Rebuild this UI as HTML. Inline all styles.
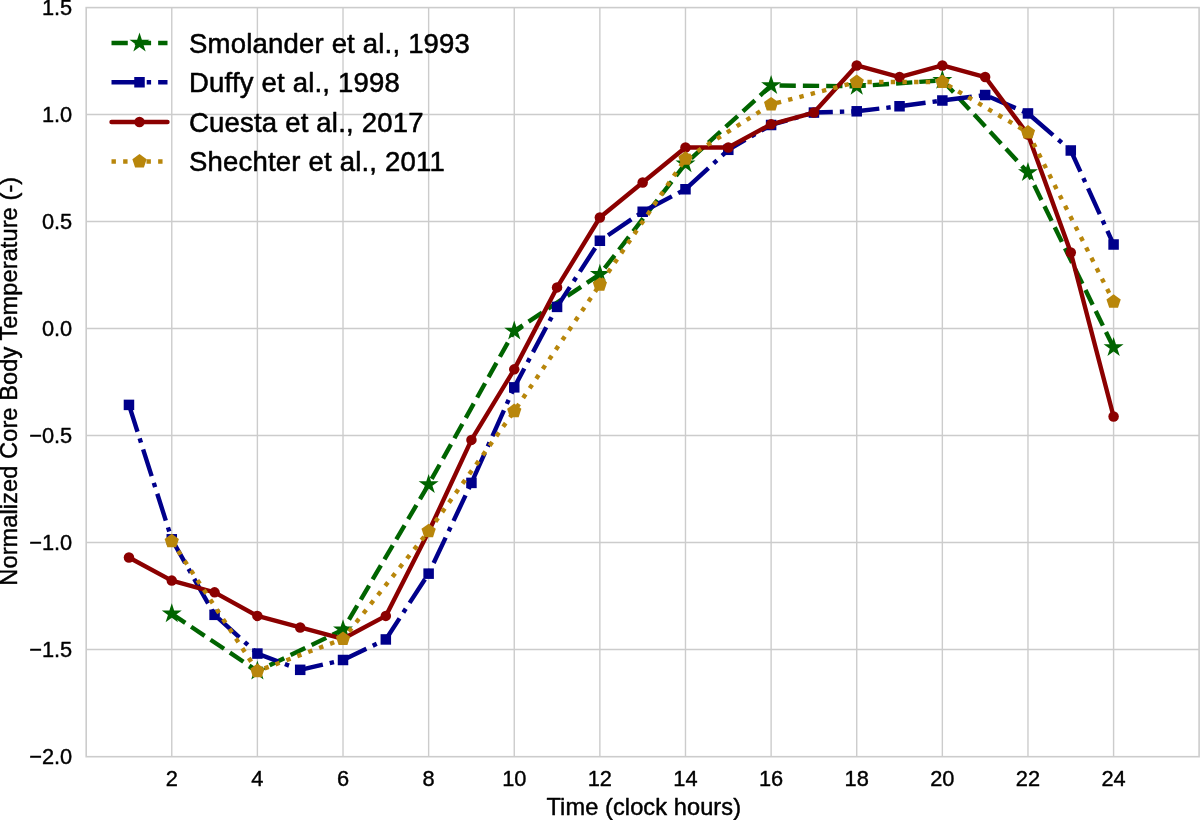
<!DOCTYPE html>
<html lang="en"><head><meta charset="utf-8"><title>Normalized Core Body Temperature</title>
<style>
html,body{margin:0;padding:0;background:#fff;}
body{width:1200px;height:820px;overflow:hidden;}
svg{display:block;}
text{font-family:"Liberation Sans",Arial,Helvetica,sans-serif;fill:#000;stroke:#000;stroke-linejoin:round;}
.tick{font-size:21.8px;stroke-width:0.4px;}
.lab{font-size:23.6px;letter-spacing:0.08px;stroke-width:0.45px;}
.leg{font-size:27.5px;letter-spacing:0.2px;stroke-width:0.55px;}
</style></head><body>
<svg width="1200" height="820" viewBox="0 0 1200 820">
<rect x="0" y="0" width="1200" height="820" fill="#ffffff"/>
<g stroke="#cccccc" stroke-width="1.4" fill="none">
<line x1="171.77" y1="7.60" x2="171.77" y2="756.70"/>
<line x1="257.39" y1="7.60" x2="257.39" y2="756.70"/>
<line x1="343.01" y1="7.60" x2="343.01" y2="756.70"/>
<line x1="428.63" y1="7.60" x2="428.63" y2="756.70"/>
<line x1="514.25" y1="7.60" x2="514.25" y2="756.70"/>
<line x1="599.87" y1="7.60" x2="599.87" y2="756.70"/>
<line x1="685.49" y1="7.60" x2="685.49" y2="756.70"/>
<line x1="771.11" y1="7.60" x2="771.11" y2="756.70"/>
<line x1="856.73" y1="7.60" x2="856.73" y2="756.70"/>
<line x1="942.35" y1="7.60" x2="942.35" y2="756.70"/>
<line x1="1027.97" y1="7.60" x2="1027.97" y2="756.70"/>
<line x1="1113.59" y1="7.60" x2="1113.59" y2="756.70"/>
<line x1="86.20" y1="114.50" x2="1199.10" y2="114.50"/>
<line x1="86.20" y1="221.50" x2="1199.10" y2="221.50"/>
<line x1="86.20" y1="328.50" x2="1199.10" y2="328.50"/>
<line x1="86.20" y1="435.50" x2="1199.10" y2="435.50"/>
<line x1="86.20" y1="542.50" x2="1199.10" y2="542.50"/>
<line x1="86.20" y1="649.50" x2="1199.10" y2="649.50"/>
</g>
<polyline points="171.77,613.76 257.39,671.11 343.01,629.81 428.63,484.40 514.25,331.07 599.87,274.36 685.49,163.72 771.11,85.50 856.73,86.25 942.35,80.26 1027.97,172.49 1113.59,347.50" fill="none" stroke="#006400" stroke-width="4.40" stroke-linejoin="round" stroke-linecap="butt" stroke-dasharray="16.28,7.04"/>
<g>
<polygon points="171.77,603.26 169.41,610.52 161.78,610.52 167.96,615.00 165.60,622.26 171.77,617.77 177.94,622.26 175.58,615.00 181.76,610.52 174.13,610.52" fill="#006400"/>
<polygon points="257.39,660.61 255.03,667.87 247.40,667.87 253.58,672.35 251.22,679.61 257.39,675.12 263.56,679.61 261.20,672.35 267.38,667.87 259.75,667.87" fill="#006400"/>
<polygon points="343.01,619.31 340.65,626.57 333.02,626.57 339.20,631.05 336.84,638.31 343.01,633.82 349.18,638.31 346.82,631.05 353.00,626.57 345.37,626.57" fill="#006400"/>
<polygon points="428.63,473.90 426.27,481.15 418.64,481.15 424.82,485.64 422.46,492.89 428.63,488.41 434.80,492.89 432.44,485.64 438.62,481.15 430.99,481.15" fill="#006400"/>
<polygon points="514.25,320.57 511.89,327.82 504.26,327.82 510.44,332.31 508.08,339.56 514.25,335.08 520.42,339.56 518.06,332.31 524.24,327.82 516.61,327.82" fill="#006400"/>
<polygon points="599.87,263.86 597.51,271.11 589.88,271.11 596.06,275.60 593.70,282.85 599.87,278.37 606.04,282.85 603.68,275.60 609.86,271.11 602.23,271.11" fill="#006400"/>
<polygon points="685.49,153.22 683.13,160.48 675.50,160.48 681.68,164.96 679.32,172.21 685.49,167.73 691.66,172.21 689.30,164.96 695.48,160.48 687.85,160.48" fill="#006400"/>
<polygon points="771.11,75.00 768.75,82.26 761.12,82.26 767.30,86.74 764.94,94.00 771.11,89.51 777.28,94.00 774.92,86.74 781.10,82.26 773.47,82.26" fill="#006400"/>
<polygon points="856.73,75.75 854.37,83.01 846.74,83.01 852.92,87.49 850.56,94.75 856.73,90.26 862.90,94.75 860.54,87.49 866.72,83.01 859.09,83.01" fill="#006400"/>
<polygon points="942.35,69.76 939.99,77.02 932.36,77.02 938.54,81.50 936.18,88.75 942.35,84.27 948.52,88.75 946.16,81.50 952.34,77.02 944.71,77.02" fill="#006400"/>
<polygon points="1027.97,161.99 1025.61,169.25 1017.98,169.25 1024.16,173.73 1021.80,180.99 1027.97,176.50 1034.14,180.99 1031.78,173.73 1037.96,169.25 1030.33,169.25" fill="#006400"/>
<polygon points="1113.59,337.00 1111.23,344.26 1103.60,344.26 1109.78,348.74 1107.42,356.00 1113.59,351.51 1119.76,356.00 1117.40,348.74 1123.58,344.26 1115.95,344.26" fill="#006400"/>
</g>
<polyline points="128.96,404.90 171.77,539.29 214.58,614.83 257.39,653.57 300.20,669.83 343.01,659.99 385.82,639.44 428.63,573.66 471.44,482.90 514.25,387.35 557.06,306.89 599.87,240.76 642.68,211.76 685.49,189.25 728.30,149.81 771.11,124.99 813.92,112.57 856.73,111.29 899.54,106.26 942.35,100.50 985.16,95.03 1027.97,113.43 1070.78,150.49 1113.59,244.50" fill="none" stroke="#00008b" stroke-width="4.40" stroke-linejoin="round" stroke-linecap="butt" stroke-dasharray="28.16,7.04,4.40,7.04"/>
<g>
<rect x="123.71" y="399.65" width="10.50" height="10.50" fill="#00008b"/>
<rect x="166.52" y="534.04" width="10.50" height="10.50" fill="#00008b"/>
<rect x="209.33" y="609.58" width="10.50" height="10.50" fill="#00008b"/>
<rect x="252.14" y="648.32" width="10.50" height="10.50" fill="#00008b"/>
<rect x="294.95" y="664.58" width="10.50" height="10.50" fill="#00008b"/>
<rect x="337.76" y="654.74" width="10.50" height="10.50" fill="#00008b"/>
<rect x="380.57" y="634.19" width="10.50" height="10.50" fill="#00008b"/>
<rect x="423.38" y="568.41" width="10.50" height="10.50" fill="#00008b"/>
<rect x="466.19" y="477.65" width="10.50" height="10.50" fill="#00008b"/>
<rect x="509.00" y="382.10" width="10.50" height="10.50" fill="#00008b"/>
<rect x="551.81" y="301.64" width="10.50" height="10.50" fill="#00008b"/>
<rect x="594.62" y="235.51" width="10.50" height="10.50" fill="#00008b"/>
<rect x="637.43" y="206.51" width="10.50" height="10.50" fill="#00008b"/>
<rect x="680.24" y="184.00" width="10.50" height="10.50" fill="#00008b"/>
<rect x="723.05" y="144.56" width="10.50" height="10.50" fill="#00008b"/>
<rect x="765.86" y="119.74" width="10.50" height="10.50" fill="#00008b"/>
<rect x="808.67" y="107.32" width="10.50" height="10.50" fill="#00008b"/>
<rect x="851.48" y="106.04" width="10.50" height="10.50" fill="#00008b"/>
<rect x="894.29" y="101.01" width="10.50" height="10.50" fill="#00008b"/>
<rect x="937.10" y="95.25" width="10.50" height="10.50" fill="#00008b"/>
<rect x="979.91" y="89.78" width="10.50" height="10.50" fill="#00008b"/>
<rect x="1022.72" y="108.18" width="10.50" height="10.50" fill="#00008b"/>
<rect x="1065.53" y="145.24" width="10.50" height="10.50" fill="#00008b"/>
<rect x="1108.34" y="239.25" width="10.50" height="10.50" fill="#00008b"/>
</g>
<polyline points="128.96,557.48 171.77,580.59 214.58,592.36 257.39,615.90 300.20,627.46 343.01,638.80 385.82,615.90 428.63,531.80 471.44,439.91 514.25,369.37 557.06,287.41 599.87,217.50 642.68,182.55 685.49,147.50 728.30,147.50 771.11,124.26 813.92,112.51 856.73,65.49 899.54,77.01 942.35,65.49 985.16,77.01 1027.97,134.62 1070.78,252.53 1113.59,416.45" fill="none" stroke="#8b0000" stroke-width="4.40" stroke-linejoin="round" stroke-linecap="round"/>
<g>
<circle cx="128.96" cy="557.48" r="5.25" fill="#8b0000"/>
<circle cx="171.77" cy="580.59" r="5.25" fill="#8b0000"/>
<circle cx="214.58" cy="592.36" r="5.25" fill="#8b0000"/>
<circle cx="257.39" cy="615.90" r="5.25" fill="#8b0000"/>
<circle cx="300.20" cy="627.46" r="5.25" fill="#8b0000"/>
<circle cx="343.01" cy="638.80" r="5.25" fill="#8b0000"/>
<circle cx="385.82" cy="615.90" r="5.25" fill="#8b0000"/>
<circle cx="428.63" cy="531.80" r="5.25" fill="#8b0000"/>
<circle cx="471.44" cy="439.91" r="5.25" fill="#8b0000"/>
<circle cx="514.25" cy="369.37" r="5.25" fill="#8b0000"/>
<circle cx="557.06" cy="287.41" r="5.25" fill="#8b0000"/>
<circle cx="599.87" cy="217.50" r="5.25" fill="#8b0000"/>
<circle cx="642.68" cy="182.55" r="5.25" fill="#8b0000"/>
<circle cx="685.49" cy="147.50" r="5.25" fill="#8b0000"/>
<circle cx="728.30" cy="147.50" r="5.25" fill="#8b0000"/>
<circle cx="771.11" cy="124.26" r="5.25" fill="#8b0000"/>
<circle cx="813.92" cy="112.51" r="5.25" fill="#8b0000"/>
<circle cx="856.73" cy="65.49" r="5.25" fill="#8b0000"/>
<circle cx="899.54" cy="77.01" r="5.25" fill="#8b0000"/>
<circle cx="942.35" cy="65.49" r="5.25" fill="#8b0000"/>
<circle cx="985.16" cy="77.01" r="5.25" fill="#8b0000"/>
<circle cx="1027.97" cy="134.62" r="5.25" fill="#8b0000"/>
<circle cx="1070.78" cy="252.53" r="5.25" fill="#8b0000"/>
<circle cx="1113.59" cy="416.45" r="5.25" fill="#8b0000"/>
</g>
<polyline points="171.77,541.22 257.39,671.11 343.01,639.01 428.63,531.16 514.25,411.10 599.87,284.63 685.49,158.80 771.11,104.44 856.73,81.97 942.35,81.97 1027.97,132.48 1113.59,301.75" fill="none" stroke="#b8860b" stroke-width="4.40" stroke-linejoin="round" stroke-linecap="butt" stroke-dasharray="4.40,7.26"/>
<g>
<polygon points="171.77,533.72 164.64,538.90 167.36,547.28 176.18,547.28 178.90,538.90" fill="#b8860b"/>
<polygon points="257.39,663.61 250.26,668.80 252.98,677.18 261.80,677.18 264.52,668.80" fill="#b8860b"/>
<polygon points="343.01,631.51 335.88,636.70 338.60,645.08 347.42,645.08 350.14,636.70" fill="#b8860b"/>
<polygon points="428.63,523.66 421.50,528.84 424.22,537.23 433.04,537.23 435.76,528.84" fill="#b8860b"/>
<polygon points="514.25,403.60 507.12,408.79 509.84,417.17 518.66,417.17 521.38,408.79" fill="#b8860b"/>
<polygon points="599.87,277.13 592.74,282.31 595.46,290.70 604.28,290.70 607.00,282.31" fill="#b8860b"/>
<polygon points="685.49,151.30 678.36,156.48 681.08,164.87 689.90,164.87 692.62,156.48" fill="#b8860b"/>
<polygon points="771.11,96.94 763.98,102.12 766.70,110.51 775.52,110.51 778.24,102.12" fill="#b8860b"/>
<polygon points="856.73,74.47 849.60,79.65 852.32,88.04 861.14,88.04 863.86,79.65" fill="#b8860b"/>
<polygon points="942.35,74.47 935.22,79.65 937.94,88.04 946.76,88.04 949.48,79.65" fill="#b8860b"/>
<polygon points="1027.97,124.98 1020.84,130.16 1023.56,138.54 1032.38,138.54 1035.10,130.16" fill="#b8860b"/>
<polygon points="1113.59,294.25 1106.46,299.43 1109.18,307.82 1118.00,307.82 1120.72,299.43" fill="#b8860b"/>
</g>
<rect x="86.20" y="7.60" width="1112.90" height="749.10" fill="none" stroke="#cccccc" stroke-width="1.6"/>
<line x1="111.5" y1="43.00" x2="167.5" y2="43.00" stroke="#006400" stroke-width="4.40" stroke-dasharray="16.28,7.04"/>
<polygon points="139.50,32.50 137.14,39.76 129.51,39.76 135.69,44.24 133.33,51.49 139.50,47.01 145.67,51.49 143.31,44.24 149.49,39.76 141.86,39.76" fill="#006400"/>
<text class="leg" x="189" y="52.50">Smolander et al., 1993</text>
<line x1="111.5" y1="82.25" x2="167.5" y2="82.25" stroke="#00008b" stroke-width="4.40" stroke-dasharray="28.16,7.04,4.40,7.04"/>
<rect x="134.25" y="77.00" width="10.50" height="10.50" fill="#00008b"/>
<text class="leg" x="189" y="91.75">Duffy et al., 1998</text>
<line x1="111.5" y1="122.00" x2="167.5" y2="122.00" stroke="#8b0000" stroke-width="4.40" stroke-linecap="round"/>
<circle cx="139.50" cy="122.00" r="5.25" fill="#8b0000"/>
<text class="leg" x="189" y="131.50">Cuesta et al., 2017</text>
<line x1="111.5" y1="161.50" x2="167.5" y2="161.50" stroke="#b8860b" stroke-width="4.40" stroke-dasharray="4.40,7.26"/>
<polygon points="139.50,154.00 132.37,159.18 135.09,167.57 143.91,167.57 146.63,159.18" fill="#b8860b"/>
<text class="leg" x="189" y="171.00">Shechter et al., 2011</text>
<text class="tick" x="171.77" y="786.4" text-anchor="middle">2</text>
<text class="tick" x="257.39" y="786.4" text-anchor="middle">4</text>
<text class="tick" x="343.01" y="786.4" text-anchor="middle">6</text>
<text class="tick" x="428.63" y="786.4" text-anchor="middle">8</text>
<text class="tick" x="514.25" y="786.4" text-anchor="middle">10</text>
<text class="tick" x="599.87" y="786.4" text-anchor="middle">12</text>
<text class="tick" x="685.49" y="786.4" text-anchor="middle">14</text>
<text class="tick" x="771.11" y="786.4" text-anchor="middle">16</text>
<text class="tick" x="856.73" y="786.4" text-anchor="middle">18</text>
<text class="tick" x="942.35" y="786.4" text-anchor="middle">20</text>
<text class="tick" x="1027.97" y="786.4" text-anchor="middle">22</text>
<text class="tick" x="1113.59" y="786.4" text-anchor="middle">24</text>
<text class="tick" x="72.2" y="15.00" text-anchor="end">1.5</text>
<text class="tick" x="72.2" y="122.00" text-anchor="end">1.0</text>
<text class="tick" x="72.2" y="229.00" text-anchor="end">0.5</text>
<text class="tick" x="72.2" y="336.00" text-anchor="end">0.0</text>
<text class="tick" x="72.2" y="443.00" text-anchor="end">−0.5</text>
<text class="tick" x="72.2" y="550.00" text-anchor="end">−1.0</text>
<text class="tick" x="72.2" y="657.00" text-anchor="end">−1.5</text>
<text class="tick" x="72.2" y="764.00" text-anchor="end">−2.0</text>
<text class="lab" x="643.8" y="814.5" text-anchor="middle">Time (clock hours)</text>
<text class="lab" transform="translate(17.3,381.2) rotate(-90)" text-anchor="middle">Normalized Core Body Temperature (-)</text>
</svg></body></html>
